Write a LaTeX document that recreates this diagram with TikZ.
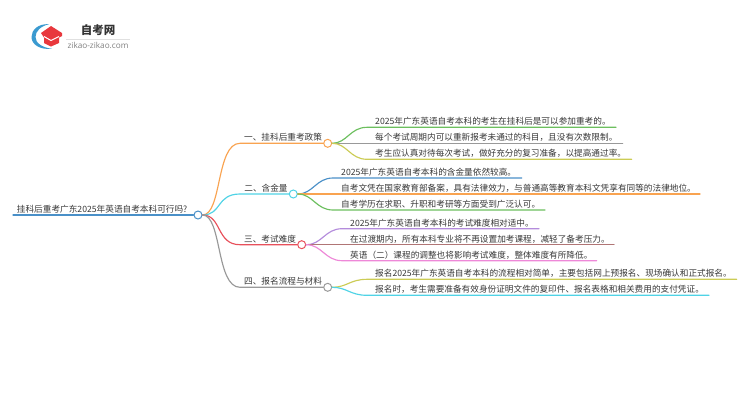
\documentclass[tikz,border=0pt]{standalone}
\usepackage{fontspec}
\setmainfont{Noto Sans CJK SC}
\newfontfamily\latinf{Open Sans}
\begin{document}
\begin{tikzpicture}[x=1pt,y=-1pt,
  hub/.style={circle,draw,fill=white,line width=1pt,minimum size=8pt,inner sep=0pt},
  leaftext/.style={anchor=south west,inner sep=0pt,font=\fontsize{8.65}{10}\selectfont,text=black!78,yshift=1.4pt},
  lab/.style={anchor=south east,inner sep=0pt,font=\fontsize{8.65}{10}\selectfont,text=black!78,yshift=1.4pt},
  link/.style={line width=1.15pt,line cap=round}]
\useasboundingbox[fill=white] (0,0) rectangle (750,410);
\definecolor{cR}{HTML}{4A90C8}\definecolor{cA}{HTML}{F9A350}\definecolor{cB}{HTML}{4FD3E6}
\definecolor{cC}{HTML}{E8505B}\definecolor{cD}{HTML}{999999}
\definecolor{cG}{HTML}{6CBF5E}\definecolor{cO}{HTML}{CCCC55}\definecolor{cP}{HTML}{B48CDC}
\definecolor{cBr}{HTML}{B07575}\definecolor{cPk}{HTML}{EE88D8}
\definecolor{cLogo}{HTML}{3A9AD0}\definecolor{cHat}{HTML}{E8383D}
% logo
\fill[cLogo] (49,24.2) .. controls (38,23.5) and (31.5,30) .. (31.5,37) .. controls (31.5,44) and (39,50) .. (52,48.8)
  .. controls (42,47.5) and (35.5,43) .. (35.5,37) .. controls (35.5,31) and (41,26) .. (49,24.2) -- cycle;
\fill[cHat] (41,33) -- (51,26) -- (62,33) -- (62,36) -- (59,37.5) -- (59,43) -- (51,46.5) -- (44,43) -- (44,37.5) -- cycle;
\draw[white,line width=1pt] (44,36.5) -- (51,40.5) -- (59,36.5);
\node[inner sep=0pt,font=\fontsize{11.5}{12}\bfseries\selectfont,text=black!80] (logoa) at (98,30) {自考网};
\draw[black!12,line width=0.7pt] (66,39) -- (130,39);
\node[inner sep=0pt,font=\latinf\fontsize{8.2}{9}\selectfont,text=black!50] (logob) at (98,45.5) {zikao-zikao.com};
% hubs
\node[hub,draw=cR] (r) at (198,215) {};
\node[hub,draw=cA] (n1) at (327.7,143.3) {};
\node[hub,draw=cB] (n2) at (293.3,194) {};
\node[hub,draw=cC] (n3) at (301.7,244.7) {};
\node[hub,draw=cD] (n4) at (327.7,287.3) {};
\coordinate (r0) at (13,215);
\draw[link,cR] (r0) -- (r.west);
\node[lab] at (r.west |- r0) [xshift=-6pt] {挂科后重考广东2025年英语自考本科可行吗?};
% main branches
\foreach \n/\c in {n1/cA,n2/cB,n3/cC,n4/cD}{
  \draw[link,\c] (r.east) .. controls (222,215) and (216,0|-\n) .. (240,0|-\n) -- (\n.west);
}
\node[lab] at (n1.west) [xshift=-1pt] {一、挂科后重考政策};
\node[lab] at (n2.west) [xshift=-1pt] {二、含金量};
\node[lab] at (n3.west) [xshift=-1pt] {三、考试难度};
\node[lab] at (n4.west) [xshift=-1pt] {四、报名流程与材料};
% leaves
\coordinate (a1) at (616,127.3); \coordinate (a2) at (622.7,143.3); \coordinate (a3) at (631.7,159.3);
\coordinate (b1) at (521.7,178); \coordinate (b2) at (700,194); \coordinate (b3) at (545,210);
\coordinate (c1) at (539,228.7); \coordinate (c2) at (614,244.7); \coordinate (c3) at (596.7,260.7);
\coordinate (d1) at (736.7,279.3); \coordinate (d2) at (709,295.3);
\foreach \n/\e/\c/\xa/\xb/\xc in {
 n1/a1/cG/347/350/367, n1/a2/cD/347/350/367, n1/a3/cO/347/350/367,
 n2/b1/cR/313/316/333, n2/b2/cA/313/316/333, n2/b3/cG/313/316/333,
 n3/c1/cP/322/325/342, n3/c2/cBr/322/325/342, n3/c3/cPk/322/325/342,
 n4/d1/cO/347/350/367, n4/d2/cB/347/350/367}{
  \draw[link,\c] (\n.east) .. controls (\xa,0|-\n) and (\xb,0|-\e) .. (\xc,0|-\e) -- (\e);
}
\node[leaftext] at (375,127.3) {2025年广东英语自考本科的考生在挂科后是可以参加重考的。};
\node[leaftext] at (375,143.3) {每个考试周期内可以重新报考未通过的科目，且没有次数限制。};
\node[leaftext] at (375,159.3) {考生应认真对待每次考试，做好充分的复习准备，以提高通过率。};
\node[leaftext] at (341,178) {2025年广东英语自考本科的含金量依然较高。};
\node[leaftext] at (341,194) {自考文凭在国家教育部备案，具有法律效力，与普通高等教育本科文凭享有同等的法律地位。};
\node[leaftext] at (341,210) {自考学历在求职、升职和考研等方面受到广泛认可。};
\node[leaftext] at (350,228.7) {2025年广东英语自考本科的考试难度相对适中。};
\node[leaftext] at (350,244.7) {在过渡期内，所有本科专业将不再设置加考课程，减轻了备考压力。};
\node[leaftext] at (350,260.7) {英语（二）课程的调整也将影响考试难度，整体难度有所降低。};
\node[leaftext] at (375,279.3) {报名2025年广东英语自考本科的流程相对简单，主要包括网上预报名、现场确认和正式报名。};
\node[leaftext] at (375,295.3) {报名时，考生需要准备有效身份证明文件的复印件、报名表格和相关费用的支付凭证。};
\end{tikzpicture}
\end{document}
